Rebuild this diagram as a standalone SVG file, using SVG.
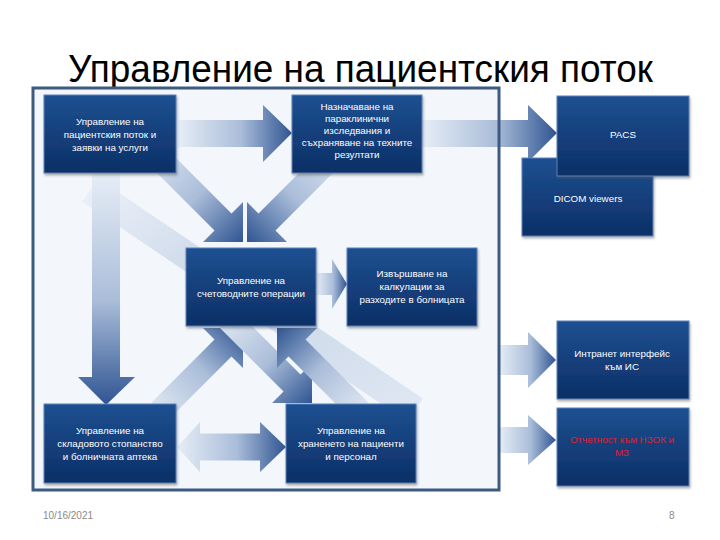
<svg xmlns="http://www.w3.org/2000/svg" width="720" height="540" viewBox="0 0 720 540">
<style>
.title{font-family:"Liberation Sans",Arial,sans-serif;font-size:38px;fill:#000}
.nt{font-family:"Liberation Sans",Arial,sans-serif;font-size:9.8px;fill:#fff;text-anchor:middle}
.red{fill:#e0202a}
.foot{font-family:"Liberation Sans",Arial,sans-serif;font-size:10px;fill:#8a8a8a}
.box{fill:url(#nodeG);stroke:#5f82b8;stroke-width:1;filter:url(#sh)}
</style>
<defs>
<linearGradient id="nodeG" x1="0" y1="0" x2="0" y2="1">
<stop offset="0" stop-color="#1e5091"/><stop offset="1" stop-color="#0c2f66"/>
</linearGradient>
<linearGradient id="gH" x1="0" y1="0" x2="1" y2="0">
<stop offset="0" stop-color="#e6edf6"/><stop offset="0.55" stop-color="#aabdd9"/><stop offset="1" stop-color="#2f5592"/>
</linearGradient>
<linearGradient id="gV" x1="0" y1="0" x2="0" y2="1">
<stop offset="0" stop-color="#e6edf6"/><stop offset="0.55" stop-color="#aabdd9"/><stop offset="1" stop-color="#2f5592"/>
</linearGradient>
<linearGradient id="gDR" x1="0" y1="0" x2="1" y2="1">
<stop offset="0" stop-color="#e6edf6"/><stop offset="0.55" stop-color="#aabdd9"/><stop offset="1" stop-color="#2f5592"/>
</linearGradient>
<linearGradient id="gDL" x1="1" y1="0" x2="0" y2="1">
<stop offset="0" stop-color="#e6edf6"/><stop offset="0.55" stop-color="#aabdd9"/><stop offset="1" stop-color="#2f5592"/>
</linearGradient>
<linearGradient id="gUR" x1="0" y1="1" x2="1" y2="0">
<stop offset="0" stop-color="#e6edf6"/><stop offset="0.55" stop-color="#aabdd9"/><stop offset="1" stop-color="#2f5592"/>
</linearGradient>
<linearGradient id="gUL" x1="1" y1="1" x2="0" y2="0">
<stop offset="0" stop-color="#e6edf6"/><stop offset="0.55" stop-color="#aabdd9"/><stop offset="1" stop-color="#2f5592"/>
</linearGradient>
<linearGradient id="gBand" x1="0" y1="0" x2="1" y2="1">
<stop offset="0" stop-color="#eef2f8"/><stop offset="0.3" stop-color="#d3deed"/><stop offset="0.7" stop-color="#d3deed"/><stop offset="1" stop-color="#e0e8f3"/>
</linearGradient>
<filter id="sh" x="-10%" y="-10%" width="125%" height="130%">
<feDropShadow dx="1" dy="2" stdDeviation="1.2" flood-color="#555" flood-opacity="0.45"/>
</filter>
</defs>

<text class="title" x="68" y="82" textLength="585" lengthAdjust="spacingAndGlyphs">Управление на пациентския поток</text>

<rect x="33" y="88" width="466" height="402" fill="#f3f7fb"/>

<g id="connectors">
<polygon points="97.8,178.4 422.8,398.4 407.2,421.6 82.2,201.6" fill="url(#gBand)"/>
<polygon points="92,173 120,173 120,377 135,377 106,405 78,377 92,377" fill="url(#gV)"/>
<polygon points="178,120 263,120 263,105 292,133 263,162 263,147 178,147" fill="url(#gH)"/>
<polygon points="422,120 528,120 528,105 557,133 528,162 528,147 422,147" fill="url(#gH)"/>
<polygon points="316,273 332,273 332,259 347,284 332,309 332,295 316,295" fill="url(#gH)"/>
<polygon points="499,345 528,345 528,332 556,360 528,388 528,375 499,375" fill="url(#gH)"/>
<polygon points="499,427 528,427 528,415 556,440 528,465 528,453 499,453" fill="url(#gH)"/>
<polygon points="177,447 200,422 200,433.5 260,433.5 260,422 286,447 260,472 260,460.5 200,460.5 200,472" fill="url(#gH)"/>
<polygon points="158.5,140.5 231.5,213.5 243,202 243,242 203,242 214.5,230.5 141.5,157.5" fill="url(#gDR)"/>
<polygon points="348.5,157.5 275.5,230.5 287,242 247,242 247,202 258.5,213.5 331.5,140.5" fill="url(#gDL)"/>
<polygon points="168.5,419.5 231.5,356.5 243,368 243,328 203,328 214.5,339.5 151.5,402.5" fill="url(#gUR)"/>
<polygon points="236.5,310.5 300.5,374.5 312,363 312,403 272,403 283.5,391.5 219.5,327.5" fill="url(#gDR)"/>
<polygon points="368.5,402.5 305.5,339.5 317,328 277,328 277,368 288.5,356.5 351.5,419.5" fill="url(#gUL)"/>
</g>

<rect x="33" y="88" width="466" height="402" fill="none" stroke="#3d5a80" stroke-width="3"/>

<g id="n1"><rect class="box" x="44" y="95" width="132" height="78"/>
<text class="nt" x="110" y="125">Управление на</text>
<text class="nt" x="110" y="138">пациентския поток и</text>
<text class="nt" x="110" y="151">заявки на услуги</text></g>

<g id="n2"><rect class="box" x="292" y="95" width="130" height="78"/>
<text class="nt" x="357" y="110">Назначаване на</text>
<text class="nt" x="357" y="122">параклинични</text>
<text class="nt" x="357" y="134">изследвания и</text>
<text class="nt" x="357" y="146">съхраняване на техните</text>
<text class="nt" x="357" y="158">резултати</text></g>

<g id="n4"><rect class="box" x="522" y="158" width="131" height="78"/>
<text class="nt" x="588" y="202">DICOM viewers</text></g>

<g id="n3"><rect class="box" x="557" y="96" width="132" height="80"/>
<text class="nt" x="623" y="138">PACS</text></g>

<g id="n5"><rect class="box" x="186" y="248" width="130" height="78"/>
<text class="nt" x="251" y="284">Управление на</text>
<text class="nt" x="251" y="297">счетоводните операции</text></g>

<g id="n6"><rect class="box" x="347" y="248" width="130" height="78"/>
<text class="nt" x="412" y="277">Извършване на</text>
<text class="nt" x="412" y="290">калкулации за</text>
<text class="nt" x="412" y="303">разходите в болницата</text></g>

<g id="n7"><rect class="box" x="557" y="321" width="132" height="78"/>
<text class="nt" x="622" y="357">Интранет интерфейс</text>
<text class="nt" x="622" y="370">към ИС</text></g>

<g id="n8"><rect class="box" x="557" y="408" width="132" height="78"/>
<text class="nt red" x="622" y="443">Отчетност към НЗОК и</text>
<text class="nt red" x="622" y="456">МЗ</text></g>

<g id="n9"><rect class="box" x="44" y="404" width="132" height="79"/>
<text class="nt" x="110" y="434">Управление на</text>
<text class="nt" x="110" y="447">складовото стопанство</text>
<text class="nt" x="110" y="460">и болничната аптека</text></g>

<g id="n10"><rect class="box" x="286" y="404" width="130" height="79"/>
<text class="nt" x="351" y="434">Управление на</text>
<text class="nt" x="351" y="447">храненето на пациенти</text>
<text class="nt" x="351" y="460">и персонал</text></g>

<text class="foot" x="43" y="519">10/16/2021</text>
<text class="foot" x="669" y="519">8</text>
</svg>
